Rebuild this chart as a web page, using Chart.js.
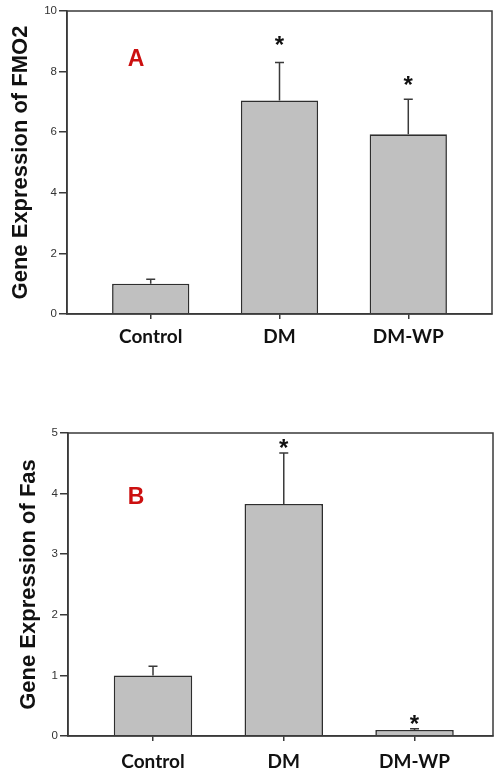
<!DOCTYPE html>
<html>
<head>
<meta charset="utf-8">
<script src="https://cdn.jsdelivr.net/npm/chart.js@4.4.0/dist/chart.umd.min.js"></script>
<style>
  body { margin: 0; background: #fff; width: 494px; height: 773px; overflow: hidden; position: relative; }
  canvas { position: absolute; left: 0; }
  #chartA { top: 0; }
  #chartB { top: 390px; }
</style>
</head>
<body>
<canvas id="chartA" width="494" height="360"></canvas>
<canvas id="chartB" width="494" height="383"></canvas>
<script>
const groups = ["Control", "DM", "DM-WP"];

// panel A - FMO2
const fmo2Values = [1.0, 7.05, 5.93];
const fmo2Errors = [0.15, 1.25, 1.16];
const fmo2Stars = [null, 9.08, 7.76];
const fmo2Ticks = [0, 2, 4, 6, 8, 10];

// panel B - Fas
const fasValues = [1.0, 3.83, 0.1];
const fasErrors = [0.15, 0.84, 0.02];
const fasStars = [null, 4.85, 0.3];
const fasTicks = [0, 1, 2, 3, 4, 5];

Chart.defaults.font.family = "'Liberation Sans', Arial, sans-serif";
Chart.defaults.color = "#333";

const axisColor = "#3a3a3a";

// upper error whiskers, significance stars, panel letter and frame
const extrasPlugin = {
  id: "extras",
  afterDatasetsDraw(chart) {
    const o = chart.options.plugins.extras;
    const ctx = chart.ctx;
    const xs = chart.scales.x;
    const ys = chart.scales.y;
    ctx.save();
    ctx.strokeStyle = axisColor;
    ctx.lineWidth = 1.5;
    o.values.forEach((v, i) => {
      const x = xs.getPixelForValue(i + 1);
      const y0 = ys.getPixelForValue(v);
      const y1 = ys.getPixelForValue(v + o.errors[i]);
      ctx.beginPath();
      ctx.moveTo(x, y0);
      ctx.lineTo(x, y1);
      ctx.moveTo(x - 4.5, y1);
      ctx.lineTo(x + 4.5, y1);
      ctx.stroke();
    });
    ctx.fillStyle = "#111";
    ctx.font = "bold 24px 'Liberation Sans', Arial";
    ctx.textAlign = "center";
    ctx.textBaseline = "alphabetic";
    o.stars.forEach((s, i) => {
      if (s === null) return;
      ctx.fillText("*", xs.getPixelForValue(i + 1), ys.getPixelForValue(s) + 14);
    });
    ctx.fillStyle = "#cc1010";
    ctx.font = "bold 23px 'Liberation Sans', Arial";
    ctx.textBaseline = "middle";
    ctx.fillText(o.letter, xs.getPixelForValue(o.letterAt[0]), ys.getPixelForValue(o.letterAt[1]));
    const a = chart.chartArea;
    ctx.strokeStyle = axisColor;
    ctx.lineWidth = 1.5;
    ctx.strokeRect(a.left, a.top, a.right - a.left, a.bottom - a.top);
    ctx.restore();
  }
};

function makeChart(id, cfg) {
  const canvas = document.getElementById(id);
  return new Chart(canvas, {
    type: "bar",
    data: {
      datasets: [{
        data: cfg.values.map((v, i) => ({ x: i + 1, y: v })),
        backgroundColor: "#c0c0c0",
        borderColor: "#2e2e2e",
        borderWidth: 1.6,
        categoryPercentage: 1,
        barPercentage: 0.6
      }]
    },
    options: {
      responsive: false,
      animation: false,
      layout: { padding: cfg.padding },
      scales: {
        x: {
          type: "linear",
          min: 0.35,
          max: cfg.xMax,
          offset: false,
          z: 1,
          afterBuildTicks: (s) => { s.ticks = groups.map((g, i) => ({ value: i + 1 })); },
          afterFit: (s) => { s.height = cfg.xHeight; },
          ticks: {
            callback: (v) => groups[v - 1],
            font: { family: "Lato, 'Liberation Sans', sans-serif", size: 19, weight: "bold" },
            color: "#111",
            padding: cfg.xPad,
            maxRotation: 0
          },
          grid: { drawOnChartArea: false, offset: false, tickLength: 5, color: axisColor, lineWidth: 1.5 },
          border: { color: axisColor, width: 1.5 }
        },
        y: {
          min: 0,
          max: cfg.ticks[cfg.ticks.length - 1],
          afterBuildTicks: (s) => { s.ticks = cfg.ticks.map((t) => ({ value: t })); },
          afterFit: (s) => { s.width = cfg.yWidth; },
          ticks: { font: { size: 11.5 }, color: "#333", padding: 2 },
          grid: { drawOnChartArea: false, tickLength: 8, color: axisColor, lineWidth: 1.5 },
          border: { color: axisColor, width: 1.5 },
          title: {
            display: true,
            text: cfg.title,
            color: "#111",
            font: { size: 22, weight: "bold" },
            padding: { top: cfg.titlePad, bottom: 0 }
          }
        }
      },
      plugins: {
        legend: { display: false },
        tooltip: { enabled: false },
        extras: {
          values: cfg.values,
          errors: cfg.errors,
          stars: cfg.stars,
          letter: cfg.letter,
          letterAt: cfg.letterAt
        }
      }
    },
    plugins: [extrasPlugin]
  });
}

makeChart("chartA", {
  values: fmo2Values, errors: fmo2Errors, stars: fmo2Stars, ticks: fmo2Ticks,
  title: "Gene Expression of FMO2", letter: "A", letterAt: [0.886, 8.4],
  padding: { top: 11, right: 2, left: 0, bottom: 0 },
  xMax: 3.65, xHeight: 46, yWidth: 67, xPad: 6, titlePad: 8
});

makeChart("chartB", {
  values: fasValues, errors: fasErrors, stars: fasStars, ticks: fasTicks,
  title: "Gene Expression of Fas", letter: "B", letterAt: [0.87, 3.94],
  padding: { top: 43, right: 1, left: 0, bottom: 0 },
  xMax: 3.6, xHeight: 37, yWidth: 68, xPad: 9, titlePad: 16
});
</script>
</body>
</html>
